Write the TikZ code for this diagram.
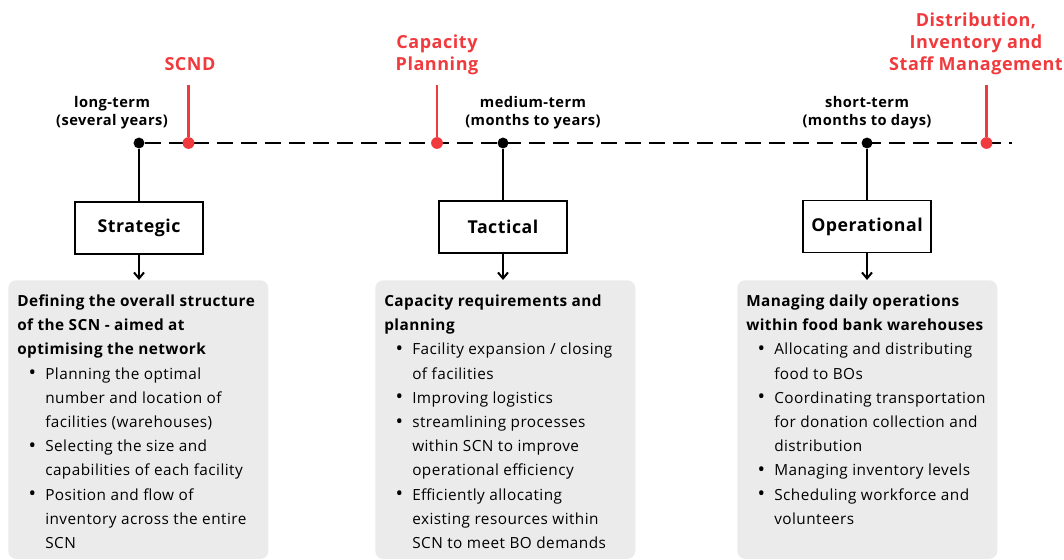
\documentclass[tikz,border=0pt]{standalone}
\usepackage{fontspec}
\setmainfont{Open Sans}[LetterSpace=3]
\usetikzlibrary{arrows.meta, positioning}
\definecolor{mkred}{RGB}{240,58,62}
\definecolor{panelgray}{RGB}{235,235,235}
\tikzset{>={Straight Barb[length=4.5pt,width=7.5pt]}}

\newcommand{\bul}{\makebox[21pt][l]{\hspace{8.5pt}\raisebox{-0.5pt}{\fontsize{15}{15}\selectfont\textbullet}}}
\newcommand{\ind}{\hspace*{21pt}}

\begin{document}
\begin{tikzpicture}[x=0.75pt, y=-0.75pt,
	dot/.style={circle, fill=black, inner sep=0pt, minimum size=8.2pt},
	reddot/.style={dot, fill=mkred, minimum size=8.8pt},
	term/.style={align=center, font=\bfseries\fontsize{11}{13.8}\selectfont},
	redlabel/.style={align=center, text=mkred, font=\bfseries\fontsize{13.5}{16.4}\selectfont},
	level/.style={draw, line width=1.2pt, minimum width=96pt, minimum height=39pt, font=\bfseries\fontsize{13.3}{16}\selectfont},
	panel/.style={fill=panelgray, rounded corners=6pt, minimum width=195pt, minimum height=209pt, anchor=north west, inner sep=0pt},
	paneltext/.style={anchor=north west, inner sep=0pt, align=left, font=\fontsize{11.5}{18.15}\selectfont},
	timeline/.style={line width=1.9pt, dash pattern=on 12.5pt off 5.5pt},
	stem/.style={line width=2pt},
	redstem/.style={line width=1.7pt, mkred}]

	\useasboundingbox (0,0) rectangle (1064,560);

	% timeline
	\node[dot] (L) at (139,143) {};
	\node[dot] (M) at (503,143) {};
	\node[dot] (Sh) at (867,143) {};
	\coordinate (E) at (1012,143);
	\draw[timeline] (L) -- (E);

	\node[term] at (112,112.5) {long-term\\(several years)};
	\node[term] at (533,112.5) {medium-term\\(months to years)};
	\node[term] at (867,112.5) {short-term\\(months to days)};

	% red markers
	\node[reddot] (R1) at (188.5,143) {};
	\node[reddot] (R2) at (437,143) {};
	\node[reddot] (R3) at (986.5,143) {};
	\coordinate (R1t) at (188.5,85);
	\coordinate (R2t) at (437,85);
	\coordinate (R3t) at (986.5,85);
	\draw[redstem] (R1) -- (R1t);
	\draw[redstem] (R2) -- (R2t);
	\draw[redstem] (R3) -- (R3t);
	\node[redlabel] at (190,64.5) {SCND};
	\node[redlabel] at (437,54.5) {Capacity\\Planning};
	\node[redlabel] at (976,43.5) {Distribution,\\Inventory and\\Staff Management};

	% levels
	\node[level] (S) at (139,228) {Strategic};
	\node[level] (T) at (503,227) {Tactical};
	\node[level] (O) at (867,226.5) {Operational};
	\draw[stem] (L) -- (S);
	\draw[stem] (M) -- (T);
	\draw[stem] (Sh) -- (O);

	% panels
	\node[panel] (P1) at (8,280) {};
	\node[panel] (P2) at (375,280) {};
	\node[panel] (P3) at (737,280) {};
	\draw[->, line width=1.5pt] (S) -- (S |- P1.north);
	\draw[->, line width=1.5pt] (T) -- (T |- P2.north);
	\draw[->, line width=1.5pt] (O) -- (O |- P3.north);

	\node[paneltext] (D1) at (17,294.5) {\textbf{Defining the overall structure}\\
		\textbf{of the SCN - aimed at}\\
		\textbf{optimising the network}\\
		\bul Planning the optimal\\
		\ind number and location of\\
		\ind facilities (warehouses)\\
		\bul Selecting the size and\\
		\ind capabilities of each facility\\
		\bul Position and flow of\\
		\ind inventory across the entire\\
		\ind SCN};
	\node[paneltext] (D2) at (384,294.5) {\textbf{Capacity requirements and}\\
		\textbf{planning}\\
		\bul Facility expansion / closing\\
		\ind of facilities\\
		\bul Improving logistics\\
		\bul streamlining processes\\
		\ind within SCN to improve\\
		\ind operational efficiency\\
		\bul Efficiently allocating\\
		\ind existing resources within\\
		\ind SCN to meet BO demands};
	\node[paneltext] (D3) at (746,294.5) {\textbf{Managing daily operations}\\
		\textbf{within food bank warehouses}\\
		\bul Allocating and distributing\\
		\ind food to BOs\\
		\bul Coordinating transportation\\
		\ind for donation collection and\\
		\ind distribution\\
		\bul Managing inventory levels\\
		\bul Scheduling workforce and\\
		\ind volunteers};

\end{tikzpicture}
\end{document}
